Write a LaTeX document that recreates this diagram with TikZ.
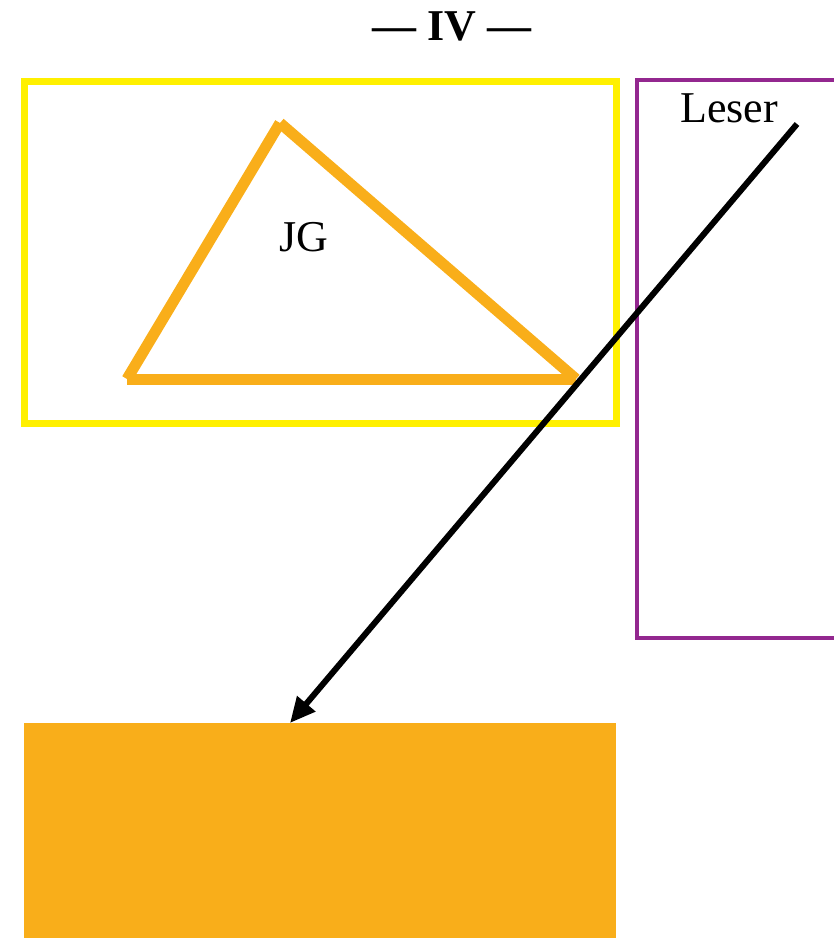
\documentclass[tikz,border=0pt]{standalone}
\usepackage{fontspec}
\setmainfont{Liberation Serif}
\usetikzlibrary{arrows.meta, positioning, calc}
\definecolor{boxyellow}{HTML}{FFF000}
\definecolor{jgorange}{HTML}{F9AE1A}
\definecolor{leserpurple}{HTML}{93278F}

\begin{document}
\begin{tikzpicture}[x=0.75pt, y=-0.75pt, >={Triangle[length=19pt, width=17pt]},
  label text/.style={font=\fontsize{33}{38}\selectfont, text=black, inner sep=0pt}]

% Frame
\useasboundingbox (0,0) rectangle (834,938);
\clip (0,0) rectangle (834,938);

% Title
\node[label text, font=\fontsize{33}{38}\selectfont\bfseries] (title) at (452,26) {— IV —};

% Yellow box with the triangle
\draw[boxyellow, line width=5.25pt] (24,82) rectangle (616,423);
\coordinate (jgtop) at (280,123);
\coordinate (jgleft) at (127,379);
\coordinate (jgright) at (576,379);
\draw[jgorange, line width=8.25pt] (jgleft) -- (jgtop);
\draw[jgorange, line width=8.25pt] (jgtop) -- (jgright);
\draw[jgorange, line width=8.25pt] (jgleft) -- (jgright);
\node[label text] (jg) at (304,237) {JG};

% Purple box, cut by the right edge
\draw[leserpurple, line width=3pt] (637,80) rectangle (860,638);
\node[label text] (leser) at (729,108) {Leser};

% Orange block
\fill[jgorange] (24,723) rectangle (616,950);
\coordinate (blocktop) at (290,723);

% Arrow
\coordinate (lesertail) at (797,124);
\draw[->, black, line width=4.5pt] (lesertail) -- (blocktop);

\end{tikzpicture}
\end{document}
